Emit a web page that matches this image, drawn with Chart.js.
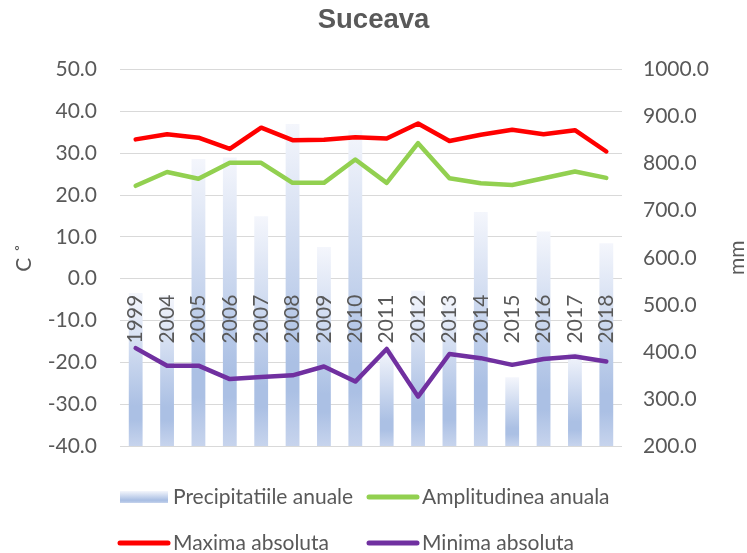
<!DOCTYPE html>
<html>
<head>
<meta charset="utf-8">
<title>Suceava</title>
<script src="https://cdn.jsdelivr.net/npm/chart.js@4.4.1/dist/chart.umd.min.js"></script>
<style>
  body { margin: 0; background: #fff; }
  #wrap { width: 747px; height: 553px; }
</style>
</head>
<body>
<div id="wrap"><canvas id="myChart"></canvas></div>
<script>
// data
const years = ['1999', '2004', '2005', '2006', '2007', '2008', '2009', '2010',
               '2011', '2012', '2013', '2014', '2015', '2016', '2017', '2018'];
const precipitatii = [525, 520, 810, 813, 688, 884, 623, 871, 405, 530, 518, 697, 346, 656, 398, 631];
const amplitudine = [22.2, 25.5, 23.9, 27.7, 27.7, 22.9, 22.9, 28.5, 22.9, 32.4, 24.0, 22.8, 22.4, 24.0, 25.6, 24.1];
const maxima = [33.3, 34.5, 33.7, 31.0, 36.1, 33.1, 33.2, 33.8, 33.5, 37.1, 32.9, 34.4, 35.6, 34.5, 35.5, 30.4];
const minima = [-16.6, -20.8, -20.8, -24.0, -23.5, -23.1, -21.0, -24.6, -16.8, -28.2, -18.0, -19.0, -20.6, -19.2, -18.6, -19.8];

// axis ranges: min, max, step
const tempAxis = [-40, 50, 10];
const precipAxis = [200, 1000, 100];

const textColor = '#595959';
const gridColor = '#d9d9d9';
const fontName = 'Lato';

// light gradient fill like the Excel preset, one per bar
function gradientStops(g) {
    g.addColorStop(0, '#f4f6fc');
    g.addColorStop(0.74, '#abc0e4');
    g.addColorStop(0.83, '#abc0e4');
    g.addColorStop(1, '#c7d4ed');
    return g;
}

function barFill(context) {
    const chart = context.chart;
    const scale = chart.scales.y2;
    if (!scale || context.raw == null) return '#b4c7e7';
    const top = scale.getPixelForValue(context.raw);
    const bottom = scale.getPixelForValue(scale.min);
    if (!isFinite(top) || !isFinite(bottom) || bottom - top < 1) return '#b4c7e7';
    return gradientStops(chart.ctx.createLinearGradient(0, top, 0, bottom));
}

// category labels sit just under the 0 line, rotated
const yearLabels = {
    id: 'yearLabels',
    afterDatasetsDraw(chart) {
        const { ctx, scales: { x, y } } = chart;
        const y0 = y.getPixelForValue(0) + 16;
        ctx.save();
        ctx.font = '21px ' + fontName;
        ctx.fillStyle = textColor;
        ctx.textAlign = 'right';
        ctx.textBaseline = 'middle';
        years.forEach((yr, i) => {
            ctx.save();
            ctx.translate(x.getPixelForValue(i), y0);
            ctx.rotate(-Math.PI / 2);
            ctx.fillText(yr, 0, 0);
            ctx.restore();
        });
        ctx.restore();
    }
};

// axis titles, both reading bottom to top
const axisTitles = {
    id: 'axisTitles',
    afterDraw(chart) {
        const { ctx, chartArea } = chart;
        const mid = (chartArea.top + chartArea.bottom) / 2;
        ctx.save();
        ctx.font = '21px ' + fontName;
        ctx.fillStyle = textColor;
        ctx.textAlign = 'center';
        ctx.textBaseline = 'middle';
        [[24, 'C \u02DA'], [737, 'mm']].forEach(([px, txt]) => {
            ctx.save();
            ctx.translate(px, mid);
            ctx.rotate(-Math.PI / 2);
            ctx.fillText(txt, 0, 0);
            ctx.restore();
        });
        ctx.restore();
    }
};

// two-column legend below the plot
const gridLegend = {
    id: 'gridLegend',
    afterDraw(chart) {
        const { ctx } = chart;
        const cols = [118, 367];
        const rows = [497, 543];
        ctx.save();
        ctx.font = '21px ' + fontName;
        ctx.textBaseline = 'middle';
        ctx.textAlign = 'left';
        chart.data.datasets.forEach((ds, i) => {
            const sx = cols[i % 2];
            const sy = rows[Math.floor(i / 2)];
            if (ds.type === 'bar') {
                ctx.fillStyle = gradientStops(ctx.createLinearGradient(0, sy - 6, 0, sy + 6));
                ctx.fillRect(sx + 2, sy - 6, 48, 12);
            } else {
                ctx.strokeStyle = ds.borderColor;
                ctx.lineWidth = 5;
                ctx.lineCap = 'round';
                ctx.beginPath();
                ctx.moveTo(sx + 2, sy);
                ctx.lineTo(sx + 50, sy);
                ctx.stroke();
            }
            ctx.fillStyle = textColor;
            ctx.fillText(ds.label, sx + 55, sy);
        });
        ctx.restore();
    }
};

const lineStyle = {
    type: 'line',
    yAxisID: 'y',
    borderWidth: 4.5,
    pointRadius: 0,
    pointHoverRadius: 0,
    tension: 0,
    fill: false,
    borderJoinStyle: 'round',
    borderCapStyle: 'round',
    order: 1
};

new Chart(document.getElementById('myChart'), {
    data: {
        labels: years,
        datasets: [
            {
                type: 'bar',
                label: 'Precipitatiile anuale',
                data: precipitatii,
                yAxisID: 'y2',
                backgroundColor: barFill,
                borderWidth: 0,
                barPercentage: 0.44,
                categoryPercentage: 1,
                order: 5
            },
            { ...lineStyle, label: 'Amplitudinea anuala', data: amplitudine, borderColor: '#92d050' },
            { ...lineStyle, label: 'Maxima absoluta', data: maxima, borderColor: '#ff0000' },
            { ...lineStyle, label: 'Minima absoluta', data: minima, borderColor: '#7030a0' }
        ]
    },
    options: {
        responsive: true,
        maintainAspectRatio: false,
        animation: false,
        layout: { padding: { left: 0, right: 0, top: 0, bottom: 107 } },
        plugins: {
            legend: { display: false },
            tooltip: { enabled: false },
            title: {
                display: true,
                text: 'Suceava',
                color: textColor,
                font: { family: '"Liberation Sans", Arial, sans-serif', size: 27.5, weight: 'bold' },
                padding: { top: 3.5, bottom: 33 }
            }
        },
        scales: {
            x: {
                type: 'category',
                display: false,
                offset: true
            },
            y: {
                position: 'left',
                min: tempAxis[0],
                max: tempAxis[1],
                ticks: {
                    stepSize: tempAxis[2],
                    padding: 23,
                    color: textColor,
                    font: { family: fontName, size: 21 },
                    callback: v => Number(v).toFixed(1)
                },
                grid: { color: gridColor, lineWidth: 1, drawTicks: false },
                border: { display: false },
                afterFit: s => { s.width = 120; }
            },
            y2: {
                position: 'right',
                min: precipAxis[0],
                max: precipAxis[1],
                ticks: {
                    stepSize: precipAxis[2],
                    padding: 21,
                    color: textColor,
                    font: { family: fontName, size: 21 },
                    callback: v => Number(v).toFixed(1)
                },
                grid: { drawOnChartArea: false, drawTicks: false },
                border: { display: false },
                afterFit: s => { s.width = 125; }
            }
        }
    },
    plugins: [yearLabels, axisTitles, gridLegend]
});
</script>
</body>
</html>
